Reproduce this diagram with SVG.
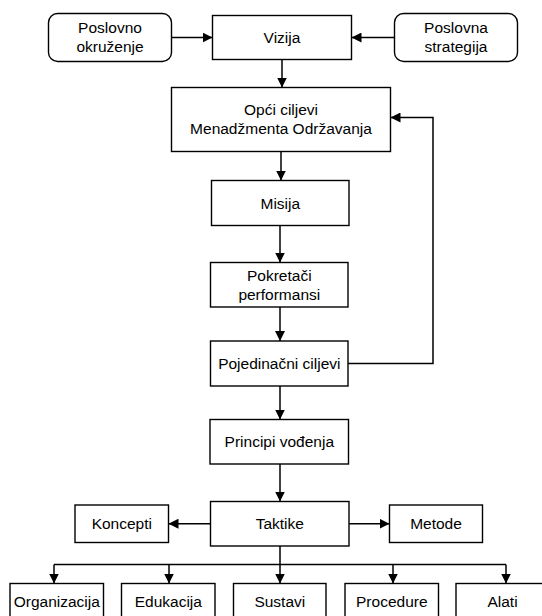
<svg xmlns="http://www.w3.org/2000/svg" width="542" height="616" viewBox="0 0 542 616">
<defs>
<marker id="ah" markerUnits="userSpaceOnUse" markerWidth="10" markerHeight="10" refX="10" refY="5" orient="auto">
<path d="M0,0 L10,5 L0,10 z" fill="#000"/>
</marker>
<style>
rect{fill:#fff;stroke:#000;stroke-width:1.4}
text{font-family:"Liberation Sans",Arial,sans-serif;font-size:15.5px;fill:#000;text-anchor:middle}
.c{fill:none;stroke:#000;stroke-width:1.5}
.a{marker-end:url(#ah)}
</style>
</defs>
<rect x="0" y="0" width="542" height="616" style="stroke:none"/>
<g id="connectors">
<path class="c a" d="M171.5,37.5 H212.5"/>
<path class="c a" d="M394.5,37.5 H351.5"/>
<path class="c a" d="M282,59.5 V87.5"/>
<path class="c a" d="M281,151.5 V180.5"/>
<path class="c a" d="M280,225.5 V262.5"/>
<path class="c a" d="M280,307 V341"/>
<path class="c a" d="M348,363.5 H433 V117.5 H390.5"/>
<path class="c a" d="M280,386 V419.5"/>
<path class="c a" d="M280,464 V501.5"/>
<path class="c a" d="M210.5,523.7 H168.5"/>
<path class="c a" d="M349,523.7 H389.5"/>
<path class="c" d="M280,546 V564.5 M54,564.5 H506"/>
<path class="c a" d="M54,564.5 V583.5"/>
<path class="c a" d="M169,564.5 V583.5"/>
<path class="c a" d="M280,564.5 V583.5"/>
<path class="c a" d="M393,564.5 V583.5"/>
<path class="c a" d="M506,564.5 V583.5"/>
</g>
<g id="poslovno-okruzenje">
<rect x="48.5" y="13.5" width="123" height="48" rx="9"/>
<text x="110" y="33">Poslovno</text>
<text x="110" y="52">okruženje</text>
</g>
<g id="vizija">
<rect x="212.5" y="15.5" width="139" height="44"/>
<text x="282" y="43">Vizija</text>
</g>
<g id="poslovna-strategija">
<rect x="394.5" y="13.5" width="123" height="48" rx="9"/>
<text x="456" y="33">Poslovna</text>
<text x="456" y="52">strategija</text>
</g>
<g id="opci-ciljevi">
<rect x="171.5" y="87.5" width="219" height="64"/>
<text x="281" y="115">Opći ciljevi</text>
<text x="281" y="134">Menadžmenta Održavanja</text>
</g>
<g id="misija">
<rect x="211.5" y="180.5" width="137.5" height="45"/>
<text x="280.3" y="208.5">Misija</text>
</g>
<g id="pokretaci">
<rect x="210.5" y="262.5" width="137.5" height="44.5"/>
<text x="279.3" y="280.5">Pokretači</text>
<text x="279.3" y="299.5">performansi</text>
</g>
<g id="pojedinacni-ciljevi">
<rect x="210.5" y="341" width="137.5" height="45"/>
<text x="279.3" y="369">Pojedinačni ciljevi</text>
</g>
<g id="principi-vodenja">
<rect x="210" y="419.5" width="138.5" height="44.5"/>
<text x="279.3" y="447.3">Principi vođenja</text>
</g>
<g id="taktike">
<rect x="210.5" y="501.5" width="138.5" height="44.5"/>
<text x="279.8" y="529.3">Taktike</text>
</g>
<g id="koncepti">
<rect x="75" y="505" width="93.5" height="37.5"/>
<text x="121.8" y="529.3">Koncepti</text>
</g>
<g id="metode">
<rect x="389.5" y="505" width="93" height="37.5"/>
<text x="436" y="529.3">Metode</text>
</g>
<g id="organizacija">
<rect x="10" y="583.5" width="93.5" height="44"/>
<text x="56.8" y="606.5">Organizacija</text>
</g>
<g id="edukacija">
<rect x="121.5" y="583.5" width="93.5" height="44"/>
<text x="168.3" y="606.5">Edukacija</text>
</g>
<g id="sustavi">
<rect x="233.5" y="583.5" width="92.5" height="44"/>
<text x="279.8" y="606.5">Sustavi</text>
</g>
<g id="procedure">
<rect x="345" y="583.5" width="93.5" height="44"/>
<text x="391.8" y="606.5">Procedure</text>
</g>
<g id="alati">
<rect x="456" y="583.5" width="93" height="44"/>
<text x="502.5" y="606.5">Alati</text>
</g>
</svg>
